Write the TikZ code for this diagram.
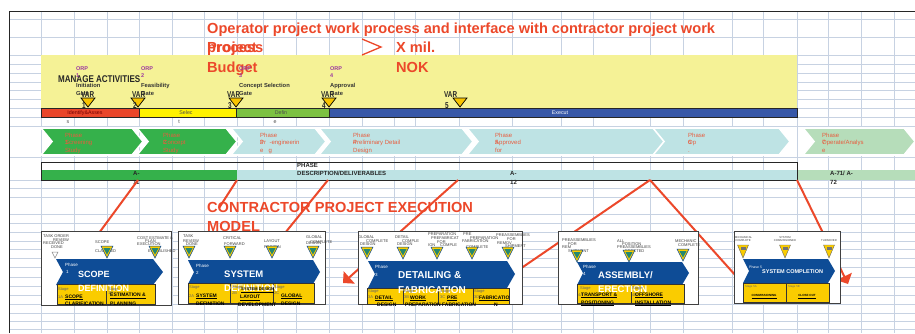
\documentclass[tikz,border=0pt]{standalone}
\usepackage{fontspec}
\setmainfont{Liberation Sans}
\usetikzlibrary{calc}
\usetikzlibrary{arrows}
\usetikzlibrary{positioning}

\definecolor{gridc}{RGB}{199,210,226}
\definecolor{titlered}{RGB}{236,72,42}
\definecolor{linered}{RGB}{236,72,42}
\definecolor{bandyellow}{RGB}{245,242,150}
\definecolor{barred}{RGB}{233,70,42}
\definecolor{baryellow}{RGB}{255,242,0}
\definecolor{bargreen}{RGB}{124,193,66}
\definecolor{barblue}{RGB}{56,88,168}
\definecolor{chevgreen}{RGB}{53,177,75}
\definecolor{chevcyan}{RGB}{190,227,228}
\definecolor{chevlight}{RGB}{182,221,186}
\definecolor{chevtext}{RGB}{232,92,62}
\definecolor{orppurple}{RGB}{155,55,160}
\definecolor{varyellow}{RGB}{248,196,0}
\definecolor{cblue}{RGB}{14,76,150}
\definecolor{cyellow}{RGB}{250,204,0}
\definecolor{tgreen}{RGB}{36,136,112}

\tikzset{
  gridline/.style={draw=gridc, line width=0.9pt},
  redtxt/.style={text=titlered, font=\bfseries\fontsize{14.6}{14.6}\selectfont, anchor=base west, inner sep=0pt},
  orptxt/.style={text=orppurple, font=\bfseries\fontsize{5.5}{5.5}\selectfont, anchor=base west, inner sep=0pt},
  gatetxt/.style={text=black!80, font=\bfseries\fontsize{5.8}{5.8}\selectfont, anchor=base west, inner sep=0pt},
  vartxt/.style={text=black!85, font=\bfseries\fontsize{8.5}{8.5}\selectfont, anchor=base west, inner sep=0pt},
  bartxt/.style={font=\fontsize{5.3}{5.3}\selectfont, anchor=base, inner sep=0pt},
  barbox/.style={draw=black!85, line width=0.8pt},
  chevtxt/.style={text=chevtext, font=\fontsize{6}{6}\selectfont, anchor=base west, inner sep=0pt},
  phasechev/.style={draw=white, line width=1.6pt},
  deltxt/.style={text=black!85, font=\bfseries\fontsize{6}{6}\selectfont, anchor=base west, inner sep=0pt},
  redline/.style={draw=linered, line width=2pt},
  cbox/.style={draw=black!75, fill=white, line width=0.9pt, inner sep=0pt, anchor=north west},
  cchev/.style={fill=cblue},
  cstage/.style={fill=cyellow, draw=black!80, line width=0.6pt},
  mtxt/.style={text=black!75, font=\fontsize{4}{4}\selectfont, anchor=base west, inner sep=0pt},
  phasetxt/.style={text=white, font=\fontsize{4.5}{4.5}\selectfont, anchor=base west, inner sep=0pt},
  cphase/.style={text=white, font=\bfseries\fontsize{9.5}{9.5}\selectfont, anchor=base west, inner sep=0pt},
  stagetxt/.style={text=black!60, font=\fontsize{4}{4}\selectfont, anchor=base west, inner sep=0pt},
  stagename/.style={text=black, font=\bfseries\fontsize{5}{5}\selectfont, anchor=base west, inner sep=0pt},
  vartri/.pic={\draw[fill=varyellow, line width=0.7pt] (-7,0) -- (7,0) -- (0,9) -- cycle;},
  mstone/.pic={\draw[fill=cyellow, draw=cblue, line width=0.5pt] (-6,0) -- (6,0) -- (0,12) -- cycle;
               \fill[tgreen] (-3.6,2) -- (3.6,2) -- (0,8.5) -- cycle;},
  mstonec/.pic={\draw[fill=cyellow, draw=black!60, line width=0.4pt] (-5.5,0) -- (5.5,0) -- (0,13) -- cycle;
               \fill[black!55] (-2.5,2) rectangle (2.5,4.5);},
}

\begin{document}
\begin{tikzpicture}[x=1pt, y=-1pt]
\useasboundingbox (0,0) rectangle (915,333);
\fill[white] (0,0) rectangle (915,333);

% spreadsheet grid
\foreach \gx in {41,74,107,139,172,204,237,263,296,329,362,394,415,459,512,561,593,650,683,732,763,797,828,861,894}
  \draw[gridline] (\gx,11) -- (\gx,333);
\foreach \gy in {19,37,55,64,73,82,90,99,108,117,126,157,180,188,197,214,223,232,241,249,258,267,277,286,295,304,313,321,329}
  \draw[gridline] (9,\gy) -- (915,\gy);
\draw[black!85, line width=1pt] (9,333) -- (9,11) -- (915,11);

% operator part
\fill[bandyellow] (41,55) rectangle (797,108);
\node[redtxt] (title) at (207,33.5) {Operator project work process and interface with contractor project work};
\node[redtxt] (proj) at (207,52.5) {Project};
\node[redtxt] (proc) at (207,52.5) {process};
\node[redtxt] (budget) at (207,72) {Budget};
\draw[titlered, line width=1.3pt] (362,39) -- (381,47) -- (362,55);
\node[redtxt] (xmil) at (396,52.5) {X mil.};
\node[redtxt] (nok) at (396,72) {NOK};

\node[anchor=base west, inner sep=0pt, text=black!85, font=\bfseries\fontsize{9.8}{9.8}\selectfont] (manage) at (58,82) {\scalebox{0.82}[1]{MANAGE ACTIVITIES}};
\foreach \i/\x/\ga in {1/76/Initiation, 2/141/Feasibility, 3/239/Concept Selection, 4/330/Approval} {
  \node[orptxt] (orp\i) at (\x,70) {ORP};
  \node[orptxt] (orpn\i) at (\x,77.5) {\i};
  \node[gatetxt] (gate\i) at (\x,87) {\ga};
  \node[gatetxt] (gateb\i) at (\x,95) {Gate};
}
\foreach \i/\x/\t in {1/81/88, 2/132/138, 3/227/236, 4/321/329, 5/444/460} {
  \pic at (\t,98) {vartri};
  \node[vartxt] (var\i) at (\x,97) {\scalebox{0.75}[1]{VAR}};
  \node[vartxt] (varn\i) at (\x+1,108) {\scalebox{0.75}[1]{\i}};
}

% project phases bar
\filldraw[barbox, fill=barred] (41,108) rectangle (139,117);
\filldraw[barbox, fill=baryellow] (139,108) rectangle (236,117);
\filldraw[barbox, fill=bargreen] (236,108) rectangle (329,117);
\filldraw[barbox, fill=barblue] (329,108) rectangle (797,117);
\node[bartxt, text=red!45!black] (bar1) at (85,114.8) {Identify\&Asses};
\node[bartxt, text=black!70] (bar2) at (186,114.8) {Selec};
\node[bartxt, text=black!70] (bar3) at (281,114.8) {Defin};
\node[bartxt, text=white] (bar4) at (560,114.8) {Execut};
\node[bartxt, text=black!70] (bars1) at (68,123) {s};
\node[bartxt, text=black!70] (bars2) at (179,123) {t};
\node[bartxt, text=black!70] (bars3) at (275,123) {e};

% phase chevrons
\foreach \l/\r/\c in {41/143/chevgreen, 137/237/chevgreen, 231/326/chevcyan, 319/473/chevcyan, 467/668/chevcyan, 653/790/chevcyan, 803/915/chevlight}
  \filldraw[phasechev, fill=\c] (\l,128) -- (\r-11,128) -- (\r,141.5) -- (\r-11,155) -- (\l,155) -- (\l+11,141.5) -- cycle;
\foreach \i/\x/\t/\u in {1/65/Screening/Study, 2/163/Concept/Study, 3/260/{Pr\ \ -engineerin}/{e\ \ \ g}, 4/353/Preliminary Detail/Design, 5/495/Approved/for, 6/688/Op/., 7/822/{Operate/Analys}/e} {
  \node[chevtxt] (pha\i) at (\x,137) {Phase};
  \node[chevtxt] (phn\i) at (\x,144.5) {\i};
  \node[chevtxt] (phb\i) at (\x,144.5) {\t};
  \node[chevtxt] (phc\i) at (\x,152) {\u};
}

% deliverables
\fill[chevgreen] (41,170) rectangle (237,180);
\fill[chevcyan] (237,170) rectangle (797,180);
\fill[chevlight] (797,170) rectangle (915,180);
\draw[barbox] (41,162) rectangle (797,180);
\node[deltxt] (dlv1) at (133,175.5) {A-};
\node[deltxt] (dlv1b) at (133,184) {11};
\node[deltxt] (dlvh) at (297,167.5) {PHASE};
\node[deltxt] (dlvd) at (297,175.5) {DESCRIPTION/DELIVERABLES};
\node[deltxt] (dlv2) at (510,175.5) {A-};
\node[deltxt] (dlv2b) at (510,184) {12};
\node[deltxt] (dlv3) at (830,175.5) {A-71/ A-};
\node[deltxt] (dlv3b) at (830,184) {72};

% links to contractor phases
\coordinate (s1) at (138,180); \coordinate (e1) at (99,233);
\coordinate (s2) at (237,180); \coordinate (e2) at (219,208);
\coordinate (s3) at (328,180); \coordinate (e3) at (285,233);
\coordinate (s4) at (458,180); \coordinate (e4) at (343,283);
\coordinate (s5) at (650,180); \coordinate (e5) at (520,269);
\coordinate (e6) at (736,276);
\coordinate (s7) at (797,180); \coordinate (e7) at (848,284);
\draw[redline] (s1) -- (e1);
\draw[redline] (s2) -- (e2);
\draw[redline] (s3) -- (e3);
\draw[redline, -triangle 90] (s4) -- (e4);
\draw[redline] (s5) -- (e5);
\draw[redline] (s5) -- (e6);
\draw[redline, -triangle 90] (s7) -- (e7);

\node[redtxt] (cpe) at (207,212) {CONTRACTOR PROJECT EXECUTION};
\node[redtxt] (cpem) at (207,231) {MODEL};

% contractor phase 1
\node[cbox, minimum width=130pt, minimum height=74pt] (bx1) at (41,231) {};
\node[mtxt] (m11) at (43,237) {TASK ORDER};
\node[mtxt] (m12) at (53,241) {REVIEW};
\node[mtxt] (m13) at (43,244) {RECEIVED};
\node[mtxt] (m14) at (51,248.5) {DONE};
\node[mtxt] (m15) at (95,243) {SCOPE};
\node[mtxt] (m16) at (95,252) {CLARIFIED};
\node[mtxt] (m17) at (137,239) {COST ESTIMATE \&};
\node[mtxt] (m18) at (145,242.5) {PLAN};
\node[mtxt] (m19) at (137,245) {EXECUTION};
\node[mtxt] (m110) at (148,252.5) {ESTABLISHED};
\draw[black!45, fill=white, line width=0.5pt] (52,252) -- (58,252) -- (55,258) -- cycle;
\pic at (107,246) {mstone};
\pic at (155,246) {mstone};
\fill[cchev] (56,259) -- (153,259) -- (163,272) -- (153,285) -- (56,285) -- (63,272) -- cycle;
\filldraw[cstage] (57,284) rectangle (106,304.5);
\filldraw[cstage] (106,284) rectangle (155,304.5);
\node[phasetxt] (ph1a) at (65,266) {Phase};
\node[phasetxt] (ph1b) at (66,273) {1};
\node[cphase, font=\bfseries\fontsize{9}{9}\selectfont] (cp1a) at (78,277) {SCOPE};
\node[cphase, font=\bfseries\fontsize{9}{9}\selectfont] (cp1b) at (78,291) {DEFINITION};
\node[stagetxt] (st1a) at (58,290) {Stage};
\node[stagetxt] (st1b) at (58,298) {1A};
\node[stagename] (sn1a) at (65,298) {\underline{SCOPE}};
\node[stagename] (sn1b) at (65,305) {CLARIFICATION};
\node[stagetxt] (st1c) at (108,290) {Stage};
\node[stagetxt] (st1d) at (108,294) {1B};
\node[stagename] (sn1c) at (110,296.5) {\underline{ESTIMATION \&}};
\node[stagename] (sn1d) at (110,305) {PLANNING};

% contractor phase 2
\node[cbox, minimum width=147pt, minimum height=73pt] (bx2) at (178,231) {};
\node[mtxt] (m21) at (183,237) {TASK};
\node[mtxt] (m22) at (183,242) {REVIEW};
\node[mtxt] (m23) at (186,245) {DONE};
\node[mtxt] (m24) at (223,239.5) {CRITICAL};
\node[mtxt] (m25) at (224,245) {FORWARD};
\node[mtxt] (m26) at (264,242) {LAYOUT};
\node[mtxt] (m27) at (264,248) {FROZEN};
\node[mtxt] (m28) at (306,238) {GLOBAL};
\node[mtxt] (m29) at (306,244) {DESIGN};
\node[mtxt] (m210) at (310,243) {COMPLETE};
\pic at (189,246) {mstone};
\pic at (230,246) {mstone};
\pic at (272,246) {mstone};
\pic at (313,246) {mstone};
\fill[cchev] (188,260) -- (313,260) -- (320,272) -- (313,284) -- (188,284) -- (194,272) -- cycle;
\filldraw[cstage] (188,283) rectangle (230,303.5);
\filldraw[cstage] (230,283) rectangle (273,303.5);
\filldraw[cstage] (273,283) rectangle (314,303.5);
\node[phasetxt] (ph2a) at (196,267) {Phase};
\node[phasetxt] (ph2b) at (196,274) {2};
\node[cphase] (cp2a) at (224,277) {SYSTEM};
\node[cphase] (cp2b) at (224,291) {DEFINITION};
\node[stagetxt] (st2a) at (189,288) {Stage};
\node[stagetxt] (st2b) at (189,297) {2A};
\node[stagename] (sn2a) at (196,297) {\underline{SYSTEM}};
\node[stagename] (sn2b) at (196,305) {DEFINITION};
\node[stagetxt] (st2c) at (232,288) {Stage};
\node[stagetxt] (st2d) at (232,294) {2B};
\node[stagename, font=\bfseries\fontsize{4}{4}\selectfont] (sn2c) at (241,290.5) {\underline{SYSTEM DESIGN}};
\node[stagename] (sn2d) at (240,298.5) {\underline{LAYOUT}};
\node[stagename] (sn2e) at (238,306) {DEVELOPMENT};
\node[stagetxt] (st2e) at (274,288) {Stage};
\node[stagetxt] (st2f) at (274,294) {2C};
\node[stagename] (sn2f) at (281,297) {\underline{GLOBAL}};
\node[stagename] (sn2g) at (281,305) {DESIGN};

% contractor phase 3
\node[cbox, minimum width=164pt, minimum height=73pt] (bx3) at (358,231) {};
\node[mtxt] (m31) at (358,238.5) {GLOBAL};
\node[mtxt] (m32) at (366,242) {COMPLETE};
\node[mtxt] (m33) at (360,245.5) {DESIGN};
\node[mtxt] (m34) at (395,238.5) {DETAIL};
\node[mtxt] (m35) at (402,242) {COMPLE};
\node[mtxt] (m36) at (397,245.5) {DESIGN};
\node[mtxt] (m37) at (428,235) {PREPARATION};
\node[mtxt] (m38) at (431,239) {PREFABRICAT};
\node[mtxt] (m39) at (437,243) {FOR};
\node[mtxt] (m310) at (428,246) {ION};
\node[mtxt] (m311) at (440,246) {COMPLE};
\node[mtxt] (m312) at (463,235) {PRE};
\node[mtxt] (m313) at (470,239.5) {PREPARATION};
\node[mtxt] (m314) at (462,242.5) {FABRICATION};
\node[mtxt] (m315) at (466,248) {COMPLETE};
\node[mtxt] (m316) at (496,236) {PREASSEMBLIES};
\node[mtxt] (m317) at (507,240.5) {FOR};
\node[mtxt] (m318) at (497,244) {REMOV};
\node[mtxt] (m319) at (505,247.5) {SHIPMENT};
\foreach \mx in {367,403,437,472,508}
  \pic at (\mx,247) {mstone};
\fill[cchev] (368,261) -- (507,261) -- (515,274) -- (507,288) -- (368,288) -- (375,274) -- cycle;
\filldraw[cstage] (367,288) rectangle (403,304);
\filldraw[cstage] (403,288) rectangle (438,304);
\filldraw[cstage] (438,288) rectangle (473,304);
\filldraw[cstage] (473,288) rectangle (509,304);
\node[phasetxt] (ph3a) at (375,268) {Phase};
\node[phasetxt] (ph3b) at (375,276) {3};
\node[cphase, font=\bfseries\fontsize{10}{10}\selectfont] (cp3a) at (398,278) {DETAILING \&};
\node[cphase, font=\bfseries\fontsize{10}{10}\selectfont] (cp3b) at (398,293) {FABRICATION};
\node[stagetxt] (st3a) at (368,292) {Stage};
\node[stagetxt] (st3b) at (368,298) {3A};
\node[stagename] (sn3a) at (375,299) {\underline{DETAIL}};
\node[stagename] (sn3b) at (377,306) {DESIGN};
\node[stagetxt] (st3c) at (404,292) {Stage};
\node[stagetxt] (st3d) at (404,298) {3B};
\node[stagename] (sn3c) at (410,299) {\underline{WORK}};
\node[stagename] (sn3d) at (405,306) {PREPARATION};
\node[stagetxt] (st3e) at (440,292) {Stage};
\node[stagetxt] (st3f) at (440,298) {3C};
\node[stagename] (sn3e) at (447,299) {\underline{PRE}};
\node[stagename] (sn3f) at (442,306) {FABRICATION};
\node[stagetxt] (st3g) at (474,292) {Stage};
\node[stagetxt] (st3h) at (474,298) {3D};
\node[stagename] (sn3g) at (479,299) {\underline{FABRICATIO}};
\node[stagename] (sn3h) at (494,306) {N};

% contractor phase 4
\node[cbox, minimum width=140pt, minimum height=73pt] (bx4) at (558,231) {};
\node[mtxt] (m41) at (562,241) {PREASSEMBLIES};
\node[mtxt] (m42) at (568,245) {FOR};
\node[mtxt] (m43) at (562,248) {REM};
\node[mtxt] (m44) at (568,252) {SHIPMENT};
\node[mtxt] (m45) at (617,242) {ALL};
\node[mtxt] (m46) at (622,245.5) {POSITION};
\node[mtxt] (m47) at (617,248) {PREASSEMBLIES};
\node[mtxt] (m48) at (625,252) {ERECTED};
\node[mtxt] (m49) at (675,242) {MECHANIC};
\node[mtxt] (m410) at (678,246) {COMPLETE};
\pic at (577,250) {mstone};
\pic at (629,250) {mstone};
\pic at (683,249) {mstone};
\fill[cchev] (577,262) -- (682,262) -- (689,273) -- (682,285) -- (577,285) -- (583,273) -- cycle;
\filldraw[cstage] (577,284) rectangle (631,303.5);
\filldraw[cstage] (631,284) rectangle (684,303.5);
\node[phasetxt] (ph4a) at (583,268) {Phase};
\node[phasetxt] (ph4b) at (583,275) {4};
\node[cphase] (cp4a) at (598,278) {ASSEMBLY/};
\node[cphase] (cp4b) at (598,292) {ERECTION};
\node[stagetxt] (st4a) at (580,289) {Stage};
\node[stagetxt] (st4b) at (578,296) {4A};
\node[stagename] (sn4a) at (581,296) {\underline{TRANSPORT \&}};
\node[stagename] (sn4b) at (581,304) {\underline{POSITIONING}};
\node[stagetxt] (st4c) at (632,289) {Stage};
\node[stagetxt] (st4d) at (632,296) {4B};
\node[stagename] (sn4c) at (635,296) {\underline{OFFSHORE}};
\node[stagename] (sn4d) at (635,304) {\underline{INSTALLATION}};

% contractor phase 5
\node[cbox, minimum width=106pt, minimum height=72pt] (bx5) at (734,231) {};
\node[mtxt, anchor=base, font=\fontsize{2.8}{2.8}\selectfont] (m51) at (743,238) {MECHANICAL};
\node[mtxt, anchor=base, font=\fontsize{2.8}{2.8}\selectfont] (m52) at (743,241.5) {COMPLETE};
\node[mtxt, anchor=base, font=\fontsize{2.8}{2.8}\selectfont] (m53) at (785,238) {SYSTEM};
\node[mtxt, anchor=base, font=\fontsize{2.8}{2.8}\selectfont] (m54) at (785,241.5) {COMMISSIONED};
\node[mtxt, anchor=base, font=\fontsize{2.8}{2.8}\selectfont] (m55) at (829,241.5) {TURNOVER};
\pic at (743,245) {mstonec};
\pic at (785,245) {mstonec};
\pic at (829,245) {mstonec};
\fill[cchev] (743,259) -- (828,259) -- (835,271) -- (828,283) -- (743,283) -- (749,271) -- cycle;
\filldraw[cstage] (743,283) rectangle (786,302.5);
\filldraw[cstage] (786,283) rectangle (829,302.5);
\node[phasetxt, font=\fontsize{3.5}{3.5}\selectfont] (ph5a) at (749,268.5) {Phase 5};
\node[cphase, font=\bfseries\fontsize{5.5}{5.5}\selectfont] (cp5a) at (762,273.5) {SYSTEM COMPLETION};
\node[stagetxt, font=\fontsize{2.8}{2.8}\selectfont] (st5a) at (745,287.5) {Stage 5A};
\node[stagename, anchor=base, font=\bfseries\fontsize{3}{3}\selectfont] (sn5a) at (764,296.5) {\underline{COMMISSIONING}};
\node[stagetxt, font=\fontsize{2.8}{2.8}\selectfont] (st5b) at (788,287.5) {Stage 5B};
\node[stagename, anchor=base, font=\bfseries\fontsize{3}{3}\selectfont] (sn5b) at (807,296.5) {\underline{CLOSE OUT}};
\end{tikzpicture}
\end{document}
